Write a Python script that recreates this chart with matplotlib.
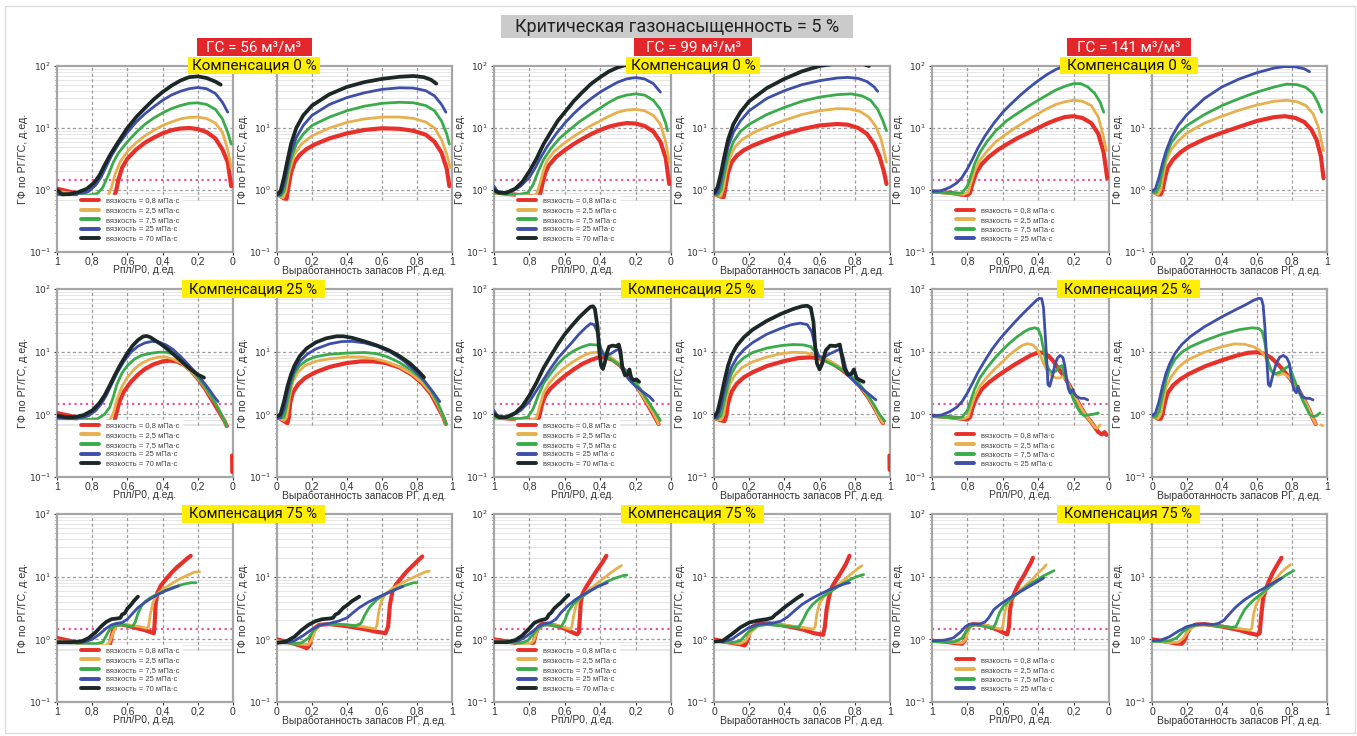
import numpy as np
import matplotlib
matplotlib.use("Agg")
import matplotlib.pyplot as plt
from matplotlib.patches import Rectangle

plt.rcParams["font.family"] = ["Liberation Sans", "DejaVu Sans"]
plt.rcParams["mathtext.fontset"] = "dejavusans"

GAP = (np.nan, np.nan)

# --- Data ---

VISC = ["0,8", "2,5", "7,5", "25", "70"]
COLORS = ["#e8302a", "#e6b04e", "#3aab4a", "#3d4fa8", "#1c2828"]
WIDTHS = [3.0, 2.0, 2.0, 2.0, 2.7]

GS_VALUES = ["56", "99", "141"]
COMP_VALUES = ["0", "25", "75"]
X_TICKS = [0, 0.2, 0.4, 0.6, 0.8, 1]
X_LABELS = ["0", "0,2", "0,4", "0,6", "0,8", "1"]

# ГС = 56 м3/м3, компенсация 0 % (x = Рпл/Р0)
P56_C0 = {
    "0,8": [(1, 1.05), (0.95, 0.97), (0.9, 0.9), (0.85, 0.83), (0.8, 0.78), (0.75, 0.73), (0.71, 0.7), (0.68, 0.72),
            (0.665, 0.95), (0.65, 1.5), (0.63, 2.3), (0.6, 3.2), (0.55, 4.5), (0.5, 5.8), (0.45, 7), (0.4, 8.2),
            (0.35, 9.2), (0.3, 9.8), (0.25, 10), (0.2, 9.6), (0.15, 8.6), (0.1, 6.8), (0.06, 4.5), (0.03, 2.8), (0.01, 1.15)],
    "2,5": [(1, 0.95), (0.9, 0.87), (0.8, 0.8), (0.74, 0.77), (0.71, 0.8), (0.69, 1.1), (0.67, 1.8), (0.64, 2.9),
            (0.6, 4.2), (0.55, 5.8), (0.5, 7.5), (0.45, 9.2), (0.4, 11), (0.35, 12.5), (0.3, 14), (0.25, 14.8),
            (0.2, 15), (0.15, 14.2), (0.1, 12), (0.06, 8.5), (0.03, 4.5), (0.01, 2.3)],
    "7,5": [(1, 0.87), (0.9, 0.85), (0.82, 0.82), (0.77, 0.88), (0.74, 1.1), (0.71, 1.7), (0.68, 2.8), (0.65, 4),
            (0.6, 6), (0.55, 8.5), (0.5, 11.5), (0.45, 14.5), (0.4, 17.5), (0.35, 20.5), (0.3, 23), (0.25, 25),
            (0.2, 25.5), (0.15, 24), (0.1, 20), (0.06, 14), (0.03, 8.5), (0.01, 5.5)],
    "25": [(1, 0.85), (0.93, 0.84), (0.87, 0.86), (0.82, 0.95), (0.78, 1.2), (0.75, 1.6), (0.72, 2.4), (0.69, 3.6),
           (0.65, 5.5), (0.6, 8.5), (0.55, 12.5), (0.5, 17), (0.45, 22), (0.4, 28), (0.35, 34), (0.3, 39),
           (0.25, 43), (0.2, 45), (0.15, 43), (0.1, 36), (0.06, 26), (0.03, 18)],
    "70": [(1, 1.0), (0.97, 0.85), (0.93, 0.86), (0.88, 0.92), (0.83, 1.05), (0.79, 1.3), (0.76, 1.7), (0.73, 2.5),
           (0.7, 3.6), (0.66, 5.5), (0.6, 10), (0.55, 15), (0.5, 21), (0.45, 29), (0.4, 38), (0.35, 48),
           (0.3, 58), (0.25, 66), (0.2, 68), (0.15, 64), (0.1, 56), (0.07, 50)],
}
# ГС = 56, компенсация 0 % (x = выработанность запасов)
R56_C0 = {
    "0,8": [(0, 0.85), (0.02, 0.8), (0.04, 0.73), (0.055, 0.72), (0.065, 1.1), (0.08, 1.9), (0.1, 2.8), (0.13, 3.7),
            (0.17, 4.6), (0.22, 5.5), (0.3, 6.8), (0.4, 8.2), (0.5, 9.3), (0.6, 9.9), (0.7, 9.7), (0.78, 9),
            (0.85, 7.8), (0.9, 6), (0.94, 4), (0.97, 2.2), (0.985, 1.15)],
    "2,5": [(0, 0.85), (0.02, 0.78), (0.035, 0.75), (0.05, 0.95), (0.07, 2), (0.1, 3.8), (0.14, 5.5), (0.2, 7.5),
            (0.3, 10), (0.4, 12.3), (0.5, 14), (0.6, 15), (0.7, 15), (0.78, 14.3), (0.85, 12.5), (0.9, 10),
            (0.94, 6.5), (0.97, 3.8), (0.99, 2.3)],
    "7,5": [(0, 0.85), (0.02, 0.8), (0.04, 0.95), (0.06, 1.8), (0.08, 3.2), (0.11, 5.5), (0.15, 8), (0.2, 11),
            (0.3, 15), (0.4, 19), (0.5, 22.5), (0.6, 25), (0.7, 26), (0.78, 25.5), (0.85, 23), (0.9, 19),
            (0.94, 13), (0.97, 8), (0.985, 5.5)],
    "25": [(0, 0.82), (0.02, 0.85), (0.04, 1.2), (0.06, 2.3), (0.08, 4), (0.11, 7), (0.15, 11), (0.2, 16),
           (0.3, 24), (0.4, 31), (0.5, 37), (0.6, 42), (0.7, 44.5), (0.78, 44), (0.85, 40), (0.9, 33),
           (0.94, 24), (0.965, 18)],
    "70": [(0, 0.85), (0.02, 0.95), (0.04, 1.6), (0.06, 3), (0.08, 5.5), (0.11, 10), (0.15, 16), (0.2, 23),
           (0.3, 35), (0.4, 46), (0.5, 55), (0.6, 62), (0.7, 67), (0.78, 69), (0.84, 66), (0.88, 60), (0.91, 52)],
}

# ГС = 99, компенсация 0 %
P99_C0 = {
    "0,8": [(1, 0.92), (0.93, 0.87), (0.86, 0.83), (0.8, 0.8), (0.76, 0.78), (0.74, 0.85), (0.725, 1.3), (0.71, 1.9),
            (0.69, 2.5), (0.65, 3.4), (0.6, 4.4), (0.55, 5.5), (0.5, 6.7), (0.45, 8), (0.4, 9.3), (0.35, 10.5),
            (0.3, 11.4), (0.25, 12), (0.2, 11.8), (0.15, 10.8), (0.1, 8.8), (0.06, 6), (0.03, 3.3), (0.01, 1.25)],
    "2,5": [(1, 0.9), (0.92, 0.86), (0.85, 0.82), (0.79, 0.8), (0.76, 0.85), (0.74, 1.3), (0.72, 2.1), (0.7, 3),
            (0.66, 4.2), (0.6, 5.8), (0.55, 7.3), (0.5, 9), (0.45, 11), (0.4, 13), (0.35, 15.5), (0.3, 18),
            (0.25, 19.5), (0.2, 20), (0.15, 19), (0.1, 16), (0.06, 11.5), (0.03, 6), (0.01, 2.8)],
    "7,5": [(1, 0.9), (0.92, 0.86), (0.86, 0.85), (0.81, 0.9), (0.78, 1.2), (0.75, 2), (0.72, 3.1), (0.68, 4.6),
            (0.63, 6.8), (0.58, 9), (0.52, 12.5), (0.45, 17), (0.4, 21), (0.35, 26), (0.3, 31), (0.25, 34),
            (0.2, 35.5), (0.15, 34), (0.1, 28), (0.06, 20), (0.03, 12), (0.02, 9)],
    "25": [(1, 1.15), (0.98, 0.95), (0.95, 0.9), (0.9, 0.95), (0.85, 1.15), (0.8, 1.6), (0.77, 2.2), (0.74, 3.2),
           (0.7, 5), (0.65, 8), (0.6, 12), (0.55, 17), (0.5, 23), (0.45, 30), (0.4, 38), (0.35, 46),
           (0.3, 55), (0.25, 62), (0.2, 65), (0.15, 62), (0.1, 52), (0.06, 38)],
    "70": [(1, 1.0), (0.97, 0.9), (0.93, 0.9), (0.88, 1.05), (0.84, 1.35), (0.8, 2), (0.76, 3.2), (0.72, 5.5),
           (0.68, 8.5), (0.64, 13), (0.6, 18), (0.55, 27), (0.5, 38), (0.45, 52), (0.4, 66), (0.35, 82),
           (0.3, 95), (0.25, 105), (0.2, 110), (0.15, 108), (0.1, 100)],
}
R99_C0 = {
    "0,8": [(0, 0.85), (0.02, 0.82), (0.04, 0.78), (0.055, 0.77), (0.065, 1.1), (0.08, 1.9), (0.1, 2.8), (0.13, 3.6),
            (0.17, 4.4), (0.22, 5.2), (0.3, 6.4), (0.4, 8), (0.5, 9.6), (0.6, 11), (0.7, 11.6), (0.76, 11.3),
            (0.82, 10), (0.87, 8), (0.91, 5.5), (0.94, 3.5), (0.965, 2), (0.98, 1.25)],
    "2,5": [(0, 0.85), (0.02, 0.8), (0.04, 0.8), (0.055, 1.1), (0.07, 2), (0.09, 3.3), (0.12, 5), (0.16, 6.5),
            (0.22, 8.3), (0.3, 10.5), (0.4, 13.3), (0.5, 16.5), (0.6, 19), (0.7, 20.5), (0.77, 20.3), (0.83, 18.5),
            (0.88, 15), (0.92, 10.5), (0.95, 6.5), (0.98, 2.8)],
    "7,5": [(0, 0.85), (0.02, 0.82), (0.04, 1.0), (0.06, 1.9), (0.08, 3.5), (0.11, 6), (0.15, 8.8), (0.2, 11.5),
            (0.3, 16.5), (0.4, 21.5), (0.5, 27), (0.6, 31.5), (0.7, 34.5), (0.78, 35.5), (0.84, 33), (0.89, 28),
            (0.93, 20), (0.96, 13), (0.98, 9)],
    "25": [(0, 0.85), (0.02, 0.9), (0.04, 1.4), (0.06, 2.8), (0.08, 5), (0.11, 8.5), (0.15, 13), (0.2, 19),
           (0.3, 30), (0.4, 40), (0.5, 50), (0.6, 58), (0.7, 64), (0.76, 65.5), (0.82, 63), (0.87, 56),
           (0.91, 46), (0.93, 39)],
    "70": [(0, 0.9), (0.02, 1.1), (0.04, 1.9), (0.06, 3.6), (0.08, 6.5), (0.11, 11.5), (0.15, 18), (0.2, 27),
           (0.3, 44), (0.4, 62), (0.5, 82), (0.6, 100), (0.7, 110), (0.78, 115), (0.84, 110), (0.88, 100)],
}

# ГС = 141, компенсация 0 %
P141_C0 = {
    "0,8": [(1, 0.95), (0.93, 0.92), (0.87, 0.88), (0.83, 0.84), (0.8, 0.83), (0.785, 0.9), (0.77, 1.3), (0.75, 1.9),
            (0.72, 2.6), (0.68, 3.4), (0.63, 4.4), (0.58, 5.4), (0.52, 6.8), (0.45, 8.5), (0.4, 10), (0.35, 11.8),
            (0.3, 13.5), (0.25, 15), (0.2, 15.5), (0.15, 14.5), (0.1, 12), (0.06, 8), (0.03, 4), (0.01, 1.55)],
    "2,5": [(1, 0.92), (0.93, 0.9), (0.87, 0.87), (0.82, 0.85), (0.795, 0.92), (0.78, 1.3), (0.76, 2), (0.73, 3),
            (0.69, 4.2), (0.64, 6), (0.58, 8), (0.52, 10.5), (0.45, 14), (0.4, 17), (0.35, 20.5), (0.3, 24),
            (0.25, 26.5), (0.2, 28), (0.15, 27), (0.1, 23), (0.06, 15), (0.03, 7), (0.015, 4.3)],
    "7,5": [(1, 0.92), (0.93, 0.9), (0.87, 0.88), (0.83, 0.9), (0.8, 1.15), (0.78, 1.7), (0.76, 2.6), (0.73, 4),
            (0.69, 6), (0.64, 9), (0.58, 13), (0.52, 17), (0.45, 23), (0.4, 28), (0.35, 34), (0.3, 41),
            (0.25, 47), (0.2, 52), (0.16, 52), (0.12, 46), (0.08, 36), (0.05, 26), (0.03, 18)],
    "25": [(1, 0.95), (0.95, 0.97), (0.9, 1.1), (0.86, 1.3), (0.83, 1.6), (0.8, 2.2), (0.77, 3.2), (0.74, 4.8),
           (0.7, 7.5), (0.65, 12), (0.6, 18), (0.55, 25), (0.5, 34), (0.45, 45), (0.4, 58), (0.35, 73),
           (0.3, 88), (0.25, 100), (0.2, 104), (0.15, 100), (0.1, 90)],
}
R141_C0 = {
    "0,8": [(0, 0.95), (0.02, 0.9), (0.035, 0.85), (0.05, 0.85), (0.06, 1.0), (0.075, 1.6), (0.09, 2.3), (0.12, 3.1),
            (0.16, 4), (0.21, 5), (0.3, 6.6), (0.4, 8.4), (0.5, 10.5), (0.6, 13), (0.7, 15), (0.76, 15.5),
            (0.82, 14.5), (0.87, 12.5), (0.91, 9.5), (0.94, 6.5), (0.965, 3.5), (0.98, 1.55)],
    "2,5": [(0, 0.92), (0.02, 0.88), (0.035, 0.85), (0.05, 1.0), (0.065, 1.8), (0.08, 2.9), (0.11, 4.5), (0.15, 6.2),
            (0.2, 8.3), (0.3, 12), (0.4, 15.5), (0.5, 19.5), (0.6, 23.5), (0.7, 27), (0.77, 28), (0.83, 26.5),
            (0.88, 23), (0.92, 17), (0.95, 10.5), (0.98, 4.3)],
    "7,5": [(0, 0.92), (0.02, 0.9), (0.04, 1.1), (0.06, 2), (0.08, 3.5), (0.11, 5.8), (0.15, 8.2), (0.2, 11),
            (0.3, 16.5), (0.4, 23), (0.5, 30), (0.6, 38), (0.7, 46), (0.77, 51), (0.83, 50), (0.88, 45),
            (0.92, 36), (0.95, 25), (0.97, 18)],
    "25": [(0, 0.95), (0.02, 1.05), (0.04, 1.6), (0.06, 2.7), (0.08, 4.2), (0.11, 7), (0.15, 11), (0.2, 16.5),
           (0.3, 30), (0.4, 46), (0.5, 62), (0.6, 78), (0.7, 93), (0.76, 98), (0.82, 97), (0.87, 90), (0.9, 81)],
}

# ГС = 56, компенсация 25 %
P56_C25 = {
    "0,8": [(1, 1.05), (0.93, 0.95), (0.86, 0.85), (0.8, 0.78), (0.74, 0.73), (0.7, 0.71), (0.675, 0.75), (0.66, 1.1),
            (0.645, 1.6), (0.62, 2.3), (0.58, 3.3), (0.54, 4.3), (0.5, 5.3), (0.45, 6.3), (0.4, 7), (0.36, 7.2),
            (0.32, 7), (0.28, 6.2), (0.24, 5), (0.2, 3.7), (0.16, 2.6), (0.12, 1.7), (0.08, 1.1), (0.05, 0.8),
            (0.035, 0.65), GAP, (0.005, 0.22), (0.004, 0.12)],
    "2,5": [(1, 0.95), (0.9, 0.86), (0.8, 0.8), (0.74, 0.77), (0.7, 0.8), (0.68, 1.05), (0.66, 1.7), (0.63, 2.8),
            (0.6, 3.9), (0.56, 5.3), (0.52, 6.5), (0.47, 7.6), (0.42, 8.2), (0.38, 8.2), (0.34, 7.6), (0.3, 6.7),
            (0.26, 5.5), (0.22, 4.3), (0.18, 3.2), (0.14, 2.2), (0.1, 1.5), (0.07, 1.05), (0.05, 0.8), (0.035, 0.65)],
    "7,5": [(1, 0.88), (0.9, 0.85), (0.82, 0.82), (0.77, 0.85), (0.73, 1.0), (0.7, 1.3), (0.68, 1.9), (0.66, 3),
            (0.63, 4.6), (0.6, 6), (0.56, 7.6), (0.52, 8.7), (0.47, 9.4), (0.42, 9.8), (0.38, 9.8), (0.34, 9.2),
            (0.3, 7.8), (0.26, 6.2), (0.22, 4.6), (0.18, 3.3), (0.14, 2.3), (0.1, 1.5), (0.07, 1.05), (0.05, 0.8),
            (0.035, 0.65)],
    "25": [(1, 0.87), (0.93, 0.86), (0.87, 0.88), (0.82, 0.95), (0.78, 1.15), (0.75, 1.45), (0.72, 2), (0.69, 3),
           (0.66, 4.5), (0.62, 7), (0.58, 9.8), (0.54, 12.2), (0.5, 13.8), (0.46, 14.6), (0.42, 14.2), (0.38, 12.8),
           (0.34, 10.8), (0.3, 8.5), (0.26, 6.5), (0.22, 4.9), (0.18, 3.6), (0.14, 2.6), (0.1, 1.8), (0.085, 1.6)],
    "70": [(1, 0.95), (0.95, 0.9), (0.9, 0.9), (0.85, 0.97), (0.8, 1.15), (0.76, 1.5), (0.73, 2), (0.7, 2.9),
           (0.67, 4.3), (0.64, 6.2), (0.6, 9.5), (0.57, 12.5), (0.54, 15.3), (0.51, 17.5), (0.49, 17.8), (0.47, 17),
           (0.44, 15), (0.4, 12.6), (0.36, 10.3), (0.32, 8.2), (0.28, 6.5), (0.24, 5.2), (0.2, 4.3), (0.165, 3.85)],
}
R56_C25 = {
    "0,8": [(0, 0.9), (0.02, 0.85), (0.04, 0.78), (0.06, 0.72), (0.068, 0.9), (0.075, 1.5), (0.09, 2.2), (0.12, 3),
            (0.16, 3.8), (0.22, 4.7), (0.3, 5.7), (0.4, 6.6), (0.48, 7), (0.55, 7), (0.62, 6.6), (0.7, 5.6),
            (0.77, 4.3), (0.83, 3.1), (0.88, 2.1), (0.92, 1.3), (0.95, 0.9), (0.965, 0.7)],
    "2,5": [(0, 0.9), (0.02, 0.85), (0.04, 0.8), (0.055, 0.9), (0.07, 1.8), (0.09, 3.3), (0.12, 4.7), (0.16, 6),
            (0.22, 7), (0.3, 7.7), (0.4, 8.2), (0.48, 8.2), (0.55, 7.8), (0.62, 7), (0.7, 5.7), (0.77, 4.4),
            (0.83, 3.2), (0.88, 2.2), (0.92, 1.4), (0.95, 0.9), (0.965, 0.7)],
    "7,5": [(0, 0.9), (0.02, 0.87), (0.04, 0.9), (0.06, 1.6), (0.08, 3), (0.1, 4.5), (0.13, 6), (0.17, 7.3),
            (0.22, 8.3), (0.3, 9.1), (0.4, 9.5), (0.5, 9.7), (0.57, 9.3), (0.63, 8.3), (0.7, 6.7), (0.77, 5),
            (0.83, 3.6), (0.88, 2.4), (0.92, 1.5), (0.95, 0.95), (0.965, 0.7)],
    "25": [(0, 0.88), (0.02, 0.88), (0.04, 1.2), (0.06, 2.2), (0.08, 3.6), (0.1, 5), (0.13, 7), (0.17, 9),
           (0.22, 11), (0.3, 13.3), (0.37, 14.5), (0.43, 14.6), (0.5, 13.8), (0.57, 12.2), (0.65, 9.8), (0.72, 7.3),
           (0.78, 5.2), (0.84, 3.5), (0.89, 2.3), (0.93, 1.6)],
    "70": [(0, 0.92), (0.02, 1.0), (0.04, 1.6), (0.06, 2.8), (0.08, 4.3), (0.1, 6), (0.13, 8.5), (0.17, 11.3),
           (0.22, 14), (0.28, 16.3), (0.34, 17.6), (0.38, 17.6), (0.43, 16.6), (0.5, 14.6), (0.57, 12.6),
           (0.64, 10.5), (0.7, 8.5), (0.76, 6.5), (0.81, 4.8), (0.84, 3.9)],
}

# ГС = 99, компенсация 25 %
P99_C25 = {
    "0,8": [(1, 0.9), (0.92, 0.86), (0.85, 0.82), (0.8, 0.8), (0.765, 0.78), (0.745, 0.9), (0.73, 1.4), (0.71, 2),
            (0.68, 2.6), (0.64, 3.3), (0.6, 4.1), (0.55, 5.2), (0.5, 6.4), (0.45, 7.4), (0.41, 8.1), (0.37, 8.1),
            (0.33, 7.4), (0.29, 6.1), (0.25, 4.7), (0.21, 3.3), (0.17, 2.2), (0.13, 1.4), (0.1, 1.0), (0.07, 0.7)],
    "2,5": [(1, 0.9), (0.92, 0.86), (0.85, 0.82), (0.79, 0.8), (0.76, 0.88), (0.74, 1.4), (0.72, 2.2), (0.69, 3.1),
            (0.65, 4.2), (0.6, 5.6), (0.55, 7), (0.5, 8.5), (0.46, 9.5), (0.42, 9.8), (0.38, 9.3), (0.34, 8.2),
            (0.3, 6.6), (0.26, 5), (0.22, 3.6), (0.18, 2.4), (0.14, 1.6), (0.1, 1.05), (0.07, 0.7)],
    "7,5": [(1, 0.9), (0.92, 0.86), (0.86, 0.85), (0.81, 0.9), (0.78, 1.2), (0.75, 2), (0.72, 3.1), (0.68, 4.5),
            (0.64, 6.3), (0.6, 8.2), (0.55, 10.3), (0.5, 12), (0.46, 13), (0.42, 12.8), (0.4, 11.5), (0.38, 9.5),
            (0.36, 8.2), (0.33, 7.3), (0.3, 6.4), (0.26, 5.1), (0.22, 3.8), (0.18, 2.7), (0.14, 1.8), (0.1, 1.2),
            (0.06, 0.8)],
    "25": [(1, 1.15), (0.98, 0.95), (0.95, 0.9), (0.9, 0.95), (0.85, 1.15), (0.8, 1.6), (0.76, 2.4), (0.72, 3.6),
           (0.68, 5.4), (0.64, 7.8), (0.6, 10.5), (0.56, 14), (0.52, 19), (0.48, 24.5), (0.455, 28), (0.435, 27),
           (0.42, 22), (0.405, 14), (0.39, 9.5), (0.37, 8.5), (0.34, 9.3), (0.31, 10.5), (0.295, 11), (0.285, 8.5),
           (0.27, 5.5), (0.25, 4), (0.23, 3.4), (0.2, 2.8), (0.16, 2.3), (0.12, 1.9), (0.1, 1.65)],
    "70": [(1, 1.0), (0.97, 0.9), (0.93, 0.9), (0.88, 1.05), (0.84, 1.35), (0.8, 2), (0.76, 3.2), (0.72, 5.5),
           (0.68, 8.5), (0.64, 13), (0.6, 19), (0.56, 26), (0.52, 35), (0.48, 45), (0.455, 52), (0.44, 53),
           (0.43, 48), (0.415, 25), (0.405, 10), (0.395, 6), (0.385, 5.3), (0.375, 6.5), (0.36, 10), (0.35, 12),
           (0.33, 12.5), (0.31, 12.2), (0.295, 13), (0.285, 10), (0.275, 5.5), (0.26, 4.2), (0.245, 4.3),
           (0.235, 5.2), (0.225, 3.8), (0.21, 3.5), (0.195, 3.6), (0.18, 3.3)],
}
R99_C25 = {
    "0,8": [(0, 0.88), (0.02, 0.84), (0.04, 0.8), (0.06, 0.78), (0.07, 0.95), (0.08, 1.5), (0.1, 2.3), (0.13, 3.1),
            (0.17, 3.9), (0.22, 4.7), (0.3, 5.9), (0.4, 7.1), (0.48, 7.9), (0.55, 8.1), (0.6, 7.8), (0.66, 6.8),
            (0.72, 5.3), (0.78, 3.9), (0.83, 2.8), (0.88, 1.8), (0.92, 1.15), (0.95, 0.8), (0.96, 0.72), GAP,
            (0.997, 0.22), (0.998, 0.13)],
    "2,5": [(0, 0.88), (0.02, 0.83), (0.04, 0.82), (0.055, 1.0), (0.07, 1.8), (0.09, 3), (0.12, 4.3), (0.16, 5.6),
            (0.22, 6.9), (0.3, 8.2), (0.38, 9.3), (0.45, 9.8), (0.52, 9.6), (0.58, 8.8), (0.64, 7.6), (0.7, 6),
            (0.76, 4.5), (0.82, 3.1), (0.87, 2), (0.91, 1.3), (0.94, 0.9), (0.96, 0.72)],
    "7,5": [(0, 0.88), (0.02, 0.85), (0.04, 0.95), (0.06, 1.7), (0.08, 3), (0.1, 4.5), (0.13, 6.3), (0.17, 8),
            (0.22, 9.7), (0.3, 11.4), (0.38, 12.5), (0.45, 13), (0.51, 12.8), (0.55, 12), (0.58, 9.7), (0.61, 7.6),
            (0.65, 6.7), (0.7, 5.7), (0.76, 4.5), (0.82, 3.2), (0.87, 2.1), (0.91, 1.4), (0.94, 1.0), (0.97, 0.78)],
    "25": [(0, 0.88), (0.02, 0.9), (0.04, 1.3), (0.06, 2.4), (0.08, 4), (0.1, 5.7), (0.13, 8), (0.17, 10.8),
           (0.22, 14), (0.3, 19), (0.38, 23.5), (0.44, 27), (0.49, 28.5), (0.53, 27), (0.555, 21), (0.575, 12),
           (0.595, 8.5), (0.62, 8), (0.66, 9.3), (0.7, 10.5), (0.72, 11), (0.735, 8), (0.75, 5.3), (0.77, 4),
           (0.8, 3.3), (0.84, 2.6), (0.88, 2.1), (0.92, 1.7)],
    "70": [(0, 0.9), (0.02, 1.1), (0.04, 1.9), (0.06, 3.5), (0.08, 6), (0.1, 8.8), (0.13, 12.5), (0.17, 17),
           (0.22, 22.5), (0.3, 31), (0.38, 40), (0.45, 48), (0.5, 53), (0.53, 54), (0.55, 50), (0.565, 30),
           (0.575, 12), (0.585, 6.5), (0.6, 5.2), (0.615, 6.5), (0.635, 10.5), (0.66, 12.5), (0.69, 12.3),
           (0.715, 13), (0.725, 9), (0.74, 5.5), (0.76, 4.3), (0.78, 4.4), (0.795, 5.2), (0.81, 3.8), (0.83, 3.5),
           (0.85, 3.3)],
}

# ГС = 141, компенсация 25 %
P141_C25 = {
    "0,8": [(1, 0.95), (0.93, 0.92), (0.87, 0.88), (0.83, 0.85), (0.8, 0.83), (0.785, 0.9), (0.77, 1.3), (0.75, 1.8),
            (0.72, 2.5), (0.68, 3.2), (0.63, 4.1), (0.58, 5.1), (0.53, 6.3), (0.48, 7.6), (0.44, 8.8), (0.4, 9.7),
            (0.37, 9.6), (0.34, 8.5), (0.31, 6.8), (0.28, 5.1), (0.25, 3.9), (0.22, 2.8), (0.19, 1.9), (0.16, 1.3),
            (0.13, 0.95), (0.1, 0.75), (0.08, 0.62), (0.06, 0.52), (0.04, 0.48), (0.025, 0.52), (0.015, 0.47)],
    "2,5": [(1, 0.92), (0.93, 0.9), (0.87, 0.87), (0.82, 0.85), (0.795, 0.92), (0.78, 1.3), (0.76, 1.9), (0.73, 2.8),
            (0.69, 3.9), (0.64, 5.5), (0.6, 7), (0.56, 9), (0.52, 11), (0.49, 12.6), (0.46, 13.4), (0.43, 12.8),
            (0.41, 11.3), (0.39, 9), (0.37, 6.5), (0.35, 5), (0.33, 4.2), (0.3, 3.8), (0.28, 3.8), (0.26, 4),
            (0.24, 3.6), (0.22, 2.7), (0.19, 1.9), (0.16, 1.3), (0.13, 0.95), (0.1, 0.75), (0.08, 0.62),
            (0.065, 0.6), (0.05, 0.68)],
    "7,5": [(1, 0.92), (0.93, 0.9), (0.87, 0.88), (0.83, 0.9), (0.8, 1.15), (0.78, 1.7), (0.76, 2.5), (0.73, 3.8),
            (0.69, 5.5), (0.64, 8.2), (0.6, 10.8), (0.56, 13.8), (0.52, 17.2), (0.48, 20.7), (0.45, 23), (0.42, 24),
            (0.4, 23), (0.385, 18), (0.37, 11), (0.355, 6.5), (0.34, 5.2), (0.32, 4.6), (0.3, 4.9), (0.28, 5.7),
            (0.265, 6), (0.255, 4.5), (0.24, 3.5), (0.22, 2.4), (0.2, 1.7), (0.18, 1.3), (0.16, 1.05), (0.14, 0.95),
            (0.12, 0.98), (0.09, 1.0), (0.06, 1.05)],
    "25": [(1, 0.95), (0.95, 0.97), (0.9, 1.1), (0.86, 1.3), (0.83, 1.6), (0.8, 2.2), (0.77, 3.2), (0.74, 4.7),
           (0.7, 7.3), (0.66, 11), (0.62, 15.5), (0.58, 21), (0.54, 28), (0.5, 37), (0.46, 48), (0.43, 58),
           (0.41, 66), (0.395, 71), (0.38, 70), (0.37, 50), (0.36, 18), (0.35, 6), (0.345, 3), (0.335, 2.8),
           (0.32, 4), (0.305, 6.3), (0.29, 8), (0.275, 8.7), (0.26, 8), (0.25, 6), (0.24, 3.8), (0.23, 2.6),
           (0.22, 2.2), (0.205, 2.5), (0.195, 2.1), (0.18, 1.9), (0.16, 1.8), (0.14, 1.8), (0.12, 1.7)],
}
R141_C25 = {
    "0,8": [(0, 0.95), (0.02, 0.9), (0.035, 0.85), (0.05, 0.85), (0.06, 1.0), (0.075, 1.6), (0.09, 2.2), (0.12, 2.9),
            (0.16, 3.6), (0.21, 4.4), (0.3, 5.8), (0.4, 7.3), (0.48, 8.6), (0.55, 9.6), (0.6, 9.8), (0.64, 9.3),
            (0.68, 8), (0.72, 6.3), (0.76, 4.7), (0.8, 3.4), (0.84, 2.4), (0.87, 1.7), (0.9, 1.15), (0.92, 0.85),
            (0.935, 0.7)],
    "2,5": [(0, 0.92), (0.02, 0.88), (0.035, 0.86), (0.05, 1.0), (0.065, 1.7), (0.08, 2.7), (0.11, 4), (0.15, 5.6),
            (0.2, 7.3), (0.3, 9.8), (0.4, 12), (0.47, 13.3), (0.53, 13.1), (0.58, 12), (0.62, 10.4), (0.645, 8.5),
            (0.665, 6.2), (0.69, 4.6), (0.72, 4.2), (0.75, 4.5), (0.78, 4), (0.81, 3.2), (0.84, 2.4), (0.87, 1.7),
            (0.9, 1.15), (0.92, 0.85), (0.935, 0.7), GAP, (0.965, 0.68), (0.975, 0.66)],
    "7,5": [(0, 0.92), (0.02, 0.9), (0.04, 1.1), (0.06, 2), (0.08, 3.5), (0.1, 5.2), (0.13, 7.5), (0.17, 9.8),
            (0.22, 12), (0.3, 15), (0.4, 19), (0.5, 22.5), (0.57, 24), (0.61, 23.5), (0.63, 21), (0.645, 14),
            (0.66, 7.5), (0.68, 5), (0.7, 4.4), (0.73, 4.7), (0.76, 5.4), (0.785, 6), (0.8, 4.5), (0.82, 3.2),
            (0.84, 2.3), (0.86, 1.7), (0.88, 1.3), (0.9, 1.0), (0.92, 0.92), (0.94, 0.95), (0.96, 1.05)],
    "25": [(0, 0.95), (0.02, 1.05), (0.04, 1.6), (0.06, 2.8), (0.08, 4.5), (0.1, 6.3), (0.13, 9.3), (0.17, 13),
           (0.22, 17.5), (0.3, 25), (0.4, 36), (0.48, 47), (0.54, 57), (0.58, 66), (0.61, 71), (0.625, 70),
           (0.635, 55), (0.645, 25), (0.655, 8), (0.665, 3), (0.675, 2.8), (0.69, 4.2), (0.71, 6.5), (0.73, 8.2),
           (0.75, 8.7), (0.77, 8), (0.785, 6.5), (0.795, 4), (0.81, 2.5), (0.825, 2.2), (0.835, 2.8), (0.845, 2.2),
           (0.86, 1.9), (0.88, 1.8), (0.9, 1.8), (0.92, 1.7)],
}

# ГС = 56, компенсация 75 %
P56_C75 = {
    "0,8": [(1, 1.05), (0.93, 0.95), (0.86, 0.86), (0.8, 0.8), (0.76, 0.75), (0.725, 0.72), (0.7, 0.8), (0.69, 1.1),
            (0.68, 1.45), (0.665, 1.7), (0.64, 1.75), (0.6, 1.65), (0.55, 1.52), (0.5, 1.4), (0.46, 1.28),
            (0.45, 1.25), (0.445, 1.8), (0.44, 3.5), (0.43, 5.5), (0.41, 7.2), (0.38, 9.2), (0.35, 11.5),
            (0.32, 14), (0.29, 16.5), (0.26, 19.5), (0.24, 21.5)],
    "2,5": [(1, 0.95), (0.92, 0.9), (0.85, 0.85), (0.78, 0.82), (0.72, 0.8), (0.7, 0.9), (0.68, 1.3), (0.66, 1.65),
            (0.63, 1.75), (0.58, 1.68), (0.53, 1.6), (0.49, 1.5), (0.48, 1.6), (0.47, 2.5), (0.455, 3.8),
            (0.44, 4.8), (0.42, 5.6), (0.38, 6.8), (0.34, 8), (0.3, 9.3), (0.26, 10.5), (0.22, 11.8), (0.19, 12)],
    "7,5": [(1, 0.9), (0.92, 0.88), (0.84, 0.86), (0.78, 0.85), (0.74, 0.9), (0.72, 1.15), (0.7, 1.45), (0.67, 1.65),
            (0.63, 1.7), (0.6, 1.65), (0.57, 1.6), (0.555, 1.9), (0.54, 2.6), (0.52, 3.4), (0.5, 4), (0.47, 4.6),
            (0.43, 5.3), (0.38, 6.1), (0.33, 6.9), (0.28, 7.6), (0.24, 8), (0.21, 8)],
    "25": [(1, 0.88), (0.92, 0.88), (0.85, 0.9), (0.8, 1.0), (0.76, 1.2), (0.72, 1.5), (0.69, 1.7), (0.66, 1.8),
           (0.63, 1.85), (0.6, 2.1), (0.57, 2.6), (0.54, 3.2), (0.5, 3.9), (0.46, 4.6), (0.42, 5.3), (0.38, 6),
           (0.34, 6.6), (0.31, 7.1)],
    "70": [(1, 0.9), (0.92, 0.9), (0.86, 0.93), (0.82, 1.05), (0.78, 1.3), (0.75, 1.6), (0.72, 1.9), (0.69, 2.1),
           (0.66, 2.15), (0.64, 2.2), (0.63, 2.5), (0.615, 2.6), (0.6, 3.1), (0.59, 3.3), (0.575, 3.7), (0.56, 4.2),
           (0.54, 4.8)],
}
R56_C75 = {
    "0,8": [(0, 1.0), (0.05, 0.92), (0.1, 0.85), (0.14, 0.78), (0.17, 0.72), (0.185, 0.8), (0.2, 1.15), (0.215, 1.5),
            (0.24, 1.7), (0.3, 1.75), (0.4, 1.62), (0.5, 1.45), (0.57, 1.32), (0.62, 1.25), (0.635, 1.6),
            (0.645, 3.5), (0.66, 5.8), (0.68, 7.5), (0.71, 9.5), (0.74, 12), (0.77, 14.5), (0.8, 17.5), (0.83, 21)],
    "2,5": [(0, 0.95), (0.05, 0.9), (0.1, 0.86), (0.15, 0.83), (0.18, 0.83), (0.2, 1.0), (0.22, 1.4), (0.25, 1.7),
            (0.3, 1.78), (0.4, 1.7), (0.5, 1.58), (0.56, 1.48), (0.57, 1.6), (0.58, 2.6), (0.595, 4), (0.62, 5.3),
            (0.66, 6.5), (0.71, 7.8), (0.76, 9.2), (0.81, 10.7), (0.85, 12), (0.87, 12.2)],
    "7,5": [(0, 0.9), (0.05, 0.88), (0.1, 0.86), (0.14, 0.88), (0.18, 1.05), (0.21, 1.4), (0.25, 1.7), (0.3, 1.75),
            (0.38, 1.72), (0.45, 1.65), (0.48, 1.8), (0.5, 2.4), (0.53, 3.3), (0.57, 4.3), (0.62, 5.3), (0.68, 6.4),
            (0.74, 7.4), (0.78, 8), (0.8, 8)],
    "25": [(0, 0.88), (0.05, 0.88), (0.1, 0.95), (0.15, 1.15), (0.2, 1.45), (0.25, 1.7), (0.3, 1.8), (0.35, 1.95),
           (0.4, 2.2), (0.43, 2.6), (0.47, 3.2), (0.52, 3.9), (0.57, 4.6), (0.62, 5.3), (0.67, 6.1), (0.72, 7)],
    "70": [(0, 0.88), (0.05, 0.92), (0.1, 1.1), (0.14, 1.4), (0.18, 1.7), (0.22, 1.95), (0.26, 2.1), (0.3, 2.15),
           (0.32, 2.2), (0.335, 2.5), (0.35, 2.6), (0.37, 3.0), (0.38, 3.2), (0.4, 3.5), (0.43, 4.1), (0.47, 4.8)],
}

# ГС = 99, компенсация 75 %
P99_C75 = {
    "0,8": [(1, 1.0), (0.93, 0.93), (0.87, 0.87), (0.82, 0.82), (0.79, 0.8), (0.775, 0.9), (0.765, 1.2), (0.75, 1.55),
            (0.73, 1.75), (0.7, 1.78), (0.65, 1.65), (0.6, 1.48), (0.56, 1.3), (0.53, 1.2), (0.52, 1.3),
            (0.515, 2.2), (0.51, 3.8), (0.5, 5.3), (0.48, 6.8), (0.45, 9.2), (0.42, 12.5), (0.39, 16.5), (0.365, 21.5)],
    "2,5": [(1, 0.95), (0.92, 0.9), (0.85, 0.86), (0.8, 0.85), (0.775, 0.95), (0.76, 1.3), (0.74, 1.6), (0.71, 1.75),
            (0.66, 1.7), (0.61, 1.58), (0.57, 1.45), (0.56, 1.6), (0.55, 2.4), (0.535, 3.6), (0.51, 4.7),
            (0.47, 5.9), (0.43, 7.3), (0.39, 9), (0.35, 11), (0.31, 13.3), (0.28, 15)],
    "7,5": [(1, 0.9), (0.92, 0.88), (0.85, 0.87), (0.81, 0.95), (0.78, 1.2), (0.75, 1.5), (0.72, 1.68), (0.68, 1.68),
            (0.64, 1.6), (0.62, 1.6), (0.6, 2.0), (0.58, 2.8), (0.55, 3.7), (0.51, 4.6), (0.46, 5.8), (0.41, 7.1),
            (0.36, 8.4), (0.31, 9.6), (0.27, 10.4), (0.25, 10.6)],
    "25": [(1, 0.9), (0.92, 0.9), (0.86, 0.95), (0.82, 1.1), (0.78, 1.35), (0.75, 1.6), (0.72, 1.75), (0.68, 1.85),
           (0.65, 2.1), (0.62, 2.7), (0.58, 3.5), (0.54, 4.3), (0.5, 5.1), (0.46, 5.9), (0.42, 6.8), (0.38, 7.6),
           (0.36, 8)],
    "70": [(1, 0.9), (0.93, 0.9), (0.88, 0.97), (0.84, 1.15), (0.8, 1.5), (0.77, 1.85), (0.74, 2), (0.71, 2.1),
           (0.7, 2.2), (0.69, 2.5), (0.68, 2.6), (0.66, 3.1), (0.64, 3.5), (0.62, 3.9), (0.6, 4.5), (0.58, 5.1)],
}
R99_C75 = {
    "0,8": [(0, 1.0), (0.05, 0.93), (0.1, 0.88), (0.15, 0.83), (0.175, 0.8), (0.19, 0.95), (0.2, 1.25), (0.22, 1.6),
            (0.26, 1.8), (0.32, 1.8), (0.4, 1.65), (0.5, 1.45), (0.57, 1.25), (0.62, 1.18), (0.63, 1.6), (0.64, 3),
            (0.655, 5), (0.67, 6.8), (0.69, 8.5), (0.72, 11.5), (0.75, 16), (0.77, 21.5)],
    "2,5": [(0, 0.95), (0.05, 0.92), (0.1, 0.88), (0.15, 0.86), (0.18, 0.95), (0.21, 1.3), (0.25, 1.65), (0.3, 1.75),
            (0.4, 1.7), (0.5, 1.55), (0.565, 1.45), (0.575, 1.6), (0.585, 2.6), (0.6, 3.8), (0.63, 5), (0.67, 6.3),
            (0.72, 8), (0.77, 10.5), (0.81, 13), (0.84, 15)],
    "7,5": [(0, 0.92), (0.05, 0.9), (0.1, 0.88), (0.15, 0.95), (0.2, 1.35), (0.25, 1.65), (0.3, 1.72), (0.38, 1.65),
            (0.45, 1.58), (0.48, 1.55), (0.5, 1.9), (0.53, 2.8), (0.56, 3.6), (0.6, 4.5), (0.65, 5.5), (0.7, 6.8),
            (0.76, 8.6), (0.81, 10), (0.85, 10.8)],
    "25": [(0, 0.92), (0.05, 0.92), (0.1, 1.0), (0.15, 1.25), (0.2, 1.55), (0.26, 1.75), (0.33, 1.8), (0.38, 1.95),
           (0.42, 2.3), (0.46, 2.9), (0.5, 3.6), (0.55, 4.4), (0.6, 5.2), (0.65, 6.1), (0.7, 7), (0.75, 7.8),
           (0.77, 8)],
    "70": [(0, 0.92), (0.05, 0.95), (0.1, 1.2), (0.15, 1.55), (0.2, 1.85), (0.25, 2), (0.3, 2.1), (0.33, 2.2),
           (0.35, 2.5), (0.36, 2.6), (0.38, 2.9), (0.41, 3.4), (0.44, 3.9), (0.47, 4.5), (0.5, 5.1)],
}

# ГС = 141, компенсация 75 %
P141_C75 = {
    "0,8": [(1, 0.95), (0.93, 0.92), (0.88, 0.88), (0.85, 0.86), (0.83, 0.85), (0.815, 0.95), (0.805, 1.3),
            (0.79, 1.6), (0.77, 1.75), (0.73, 1.72), (0.68, 1.6), (0.63, 1.42), (0.59, 1.25), (0.575, 1.2),
            (0.565, 1.6), (0.56, 2.8), (0.55, 4.3), (0.53, 5.8), (0.51, 7.7), (0.48, 10.5), (0.46, 13.5),
            (0.44, 17), (0.43, 20)],
    "2,5": [(1, 0.95), (0.92, 0.92), (0.86, 0.88), (0.83, 0.88), (0.81, 1.0), (0.795, 1.35), (0.78, 1.65),
            (0.75, 1.75), (0.7, 1.68), (0.65, 1.55), (0.61, 1.45), (0.6, 1.6), (0.59, 2.6), (0.575, 3.6),
            (0.55, 4.6), (0.51, 5.8), (0.47, 7.3), (0.43, 9.3), (0.4, 11.5), (0.37, 13.8), (0.355, 15.5)],
    "7,5": [(1, 0.92), (0.92, 0.91), (0.87, 0.92), (0.83, 1.05), (0.805, 1.35), (0.785, 1.6), (0.76, 1.7),
            (0.72, 1.65), (0.68, 1.55), (0.655, 1.5), (0.64, 1.8), (0.62, 2.6), (0.6, 3.3), (0.57, 4), (0.53, 5),
            (0.49, 6.2), (0.45, 7.5), (0.41, 8.8), (0.37, 10.3), (0.33, 11.7), (0.31, 12.5)],
    "25": [(1, 0.95), (0.93, 0.97), (0.88, 1.05), (0.84, 1.3), (0.81, 1.6), (0.79, 1.75), (0.76, 1.75), (0.73, 1.75),
           (0.7, 1.9), (0.68, 2.2), (0.65, 3), (0.61, 3.7), (0.57, 4.4), (0.53, 5.2), (0.49, 6), (0.45, 7),
           (0.41, 8.1), (0.37, 9.5)],
}
R141_C75 = {
    "0,8": [(0, 1.0), (0.05, 0.95), (0.1, 0.9), (0.14, 0.86), (0.17, 0.85), (0.185, 0.95), (0.2, 1.25), (0.22, 1.55),
            (0.25, 1.72), (0.3, 1.75), (0.4, 1.6), (0.5, 1.4), (0.56, 1.25), (0.6, 1.18), (0.615, 1.25),
            (0.625, 2.5), (0.635, 4.5), (0.65, 6.3), (0.67, 8.7), (0.69, 11.5), (0.71, 14.5), (0.73, 18), (0.74, 20)],
    "2,5": [(0, 0.95), (0.05, 0.92), (0.1, 0.89), (0.15, 0.9), (0.18, 1.05), (0.21, 1.4), (0.25, 1.68), (0.3, 1.72),
            (0.4, 1.62), (0.5, 1.48), (0.56, 1.4), (0.57, 1.5), (0.58, 2.5), (0.595, 3.6), (0.62, 4.7), (0.66, 6.5),
            (0.7, 8.8), (0.74, 11.8), (0.77, 14), (0.79, 15.5)],
    "7,5": [(0, 0.93), (0.05, 0.92), (0.1, 0.95), (0.14, 1.05), (0.18, 1.35), (0.22, 1.6), (0.27, 1.72), (0.33, 1.7),
            (0.4, 1.62), (0.46, 1.55), (0.48, 1.6), (0.5, 2.1), (0.53, 3), (0.57, 4), (0.62, 5.2), (0.67, 6.8),
            (0.72, 8.6), (0.77, 10.8), (0.81, 12.5)],
    "25": [(0, 0.95), (0.05, 0.97), (0.1, 1.1), (0.15, 1.35), (0.2, 1.6), (0.25, 1.73), (0.3, 1.75), (0.35, 1.72),
           (0.38, 1.8), (0.41, 2.0), (0.44, 2.5), (0.48, 3.3), (0.53, 4.3), (0.58, 5.3), (0.63, 6.3), (0.68, 7.6),
           (0.74, 9.5)],
}

PANELS = {
    ("56", "0"): (P56_C0, R56_C0), ("99", "0"): (P99_C0, R99_C0), ("141", "0"): (P141_C0, R141_C0),
    ("56", "25"): (P56_C25, R56_C25), ("99", "25"): (P99_C25, R99_C25), ("141", "25"): (P141_C25, R141_C25),
    ("56", "75"): (P56_C75, R56_C75), ("99", "75"): (P99_C75, R99_C75), ("141", "75"): (P141_C75, R141_C75),
}

# --- Layout (pixels of the 1357x736 picture) ---

W, H = 1357, 736
COLS = [(57, 233), (277, 452), (494, 671), (714, 890), (932, 1109), (1152, 1327)]
ROWS = [(66, 252), (289, 477), (514, 702)]
TAG_X = [254, 693, 1129]
TEXT = "#333333"
TAG_FONT = ["Roboto", "DejaVu Sans"]


def frac(x0, x1, y0, y1):
    return [x0 / W, 1 - y1 / H, (x1 - x0) / W, (y1 - y0) / H]


def draw_panel(ax, curves, pressure, legend):
    minor = [m * 10.0 ** e for e in (-1, 0, 1) for m in range(2, 10)]
    grid_minor = [v for v in minor if v >= 0.68]
    ax.hlines(grid_minor + [0.68], 0, 1, colors="#e6e6e6", lw=0.7, zorder=0)
    ax.hlines([1, 10], 0, 1, colors="#9c9c9c", lw=0.9, linestyles=(0, (2.5, 2)), zorder=1)
    ax.vlines([0.2, 0.4, 0.6, 0.8], 0.68, 100, colors="#9c9c9c", lw=0.9, linestyles=(0, (2.5, 2)), zorder=1)
    if pressure:
        ax.axhline(1.45, color="#e9579f", lw=1.6, ls=(0, (1, 1.6)), zorder=2)

    for v, c, w in zip(VISC, COLORS, WIDTHS):
        if v not in curves:
            continue
        x, y = zip(*curves[v])
        ax.plot(x, y, color=c, lw=w, solid_capstyle="round", solid_joinstyle="round",
                label=f"вязкость = {v} мПа·с", zorder=3)

    ax.set_yscale("log")
    ax.set_ylim(0.1, 100)
    ax.set_yticks([0.1, 1, 10, 100])
    # the 10^2 label of the right-hand panels sits under the yellow tag
    top = r"$10^{2}$" if pressure else ""
    ax.set_yticklabels([r"$10^{-1}$", r"$10^{0}$", r"$10^{1}$", top])
    ax.set_yticks(minor, minor=True)
    ax.set_yticklabels([], minor=True)
    ax.set_xticks(X_TICKS)
    ax.set_xticklabels(X_LABELS)
    if pressure:
        ax.set_xlim(1, 0)
        ax.set_xlabel("Рпл/Р0, д.ед.", fontsize=7.5, color=TEXT, labelpad=-1)
    else:
        ax.set_xlim(0, 1)
        ax.set_xlabel("Выработанность запасов РГ, д.ед.", fontsize=7.5, color=TEXT, labelpad=-1)
    ax.set_ylabel("ГФ по РГ/ГС, д.ед.", fontsize=7.7, color=TEXT, labelpad=1)
    ax.tick_params(axis="x", labelsize=7.6, length=2, pad=1.5, colors=TEXT)
    ax.tick_params(axis="y", which="major", labelsize=6.5, length=2.5, pad=1.5, colors=TEXT)
    ax.tick_params(axis="y", which="minor", length=1.5, color="#555555")
    for s in ax.spines.values():
        s.set_color("#a6a6a6")
        s.set_linewidth(1.6)

    if legend:
        leg = ax.legend(loc="lower left", bbox_to_anchor=(0.1, 0.015), fontsize=5.5, handlelength=2.4,
                        handletextpad=0.9, labelspacing=0.3, borderpad=0.3, frameon=True, framealpha=1,
                        edgecolor="white", fancybox=False)
        for t in leg.get_texts():
            t.set_color("#444444")
        for h in leg.get_lines():
            h.set_linewidth(2.8)


def tag(fig, cx, y0, y1, w, text, fc, tc, fs):
    fig.add_artist(Rectangle(((cx - w / 2) / W, 1 - y1 / H), w / W, (y1 - y0) / H,
                             transform=fig.transFigure, facecolor=fc, edgecolor="none", zorder=5))
    fig.text(cx / W, 1 - (y0 + y1) / 2 / H, text, ha="center", va="center", color=tc,
             fontsize=fs, zorder=6, family=TAG_FONT)


fig = plt.figure(figsize=(W / 100, H / 100), dpi=100)
fig.patch.set_facecolor("white")

for gi, gs in enumerate(GS_VALUES):
    for ri, comp in enumerate(COMP_VALUES):
        p_curves, r_curves = PANELS[(gs, comp)]
        y0, y1 = ROWS[ri]
        ax_p = fig.add_axes(frac(*COLS[2 * gi], y0, y1))
        draw_panel(ax_p, p_curves, True, True)
        ax_r = fig.add_axes(frac(*COLS[2 * gi + 1], y0, y1))
        draw_panel(ax_r, r_curves, False, False)

# outer frame
fig.add_artist(Rectangle((5 / W, 1 - 733 / H), 1350 / W, 727 / H, transform=fig.transFigure,
                         facecolor="none", edgecolor="#dcdcdc", lw=1, zorder=4))

tag(fig, 677, 15, 38, 351, "Критическая газонасыщенность = 5 %", "#cbcbcb", "#222222", 13)
for gi, gs in enumerate(GS_VALUES):
    tag(fig, TAG_X[gi], 38, 56, [115, 118, 124][gi], f"ГС = {gs} м³/м³", "#e3262c", "white", 11)
    tag(fig, TAG_X[gi], 57, 74, [132, 134, 138][gi], "Компенсация 0 %", "#ffee00", "#111111", 11)
    tag(fig, TAG_X[gi] - 1, 280, 298, 143, "Компенсация 25 %", "#ffee00", "#111111", 10.5)
    tag(fig, TAG_X[gi] - 1, 505, 523, 143, "Компенсация 75 %", "#ffee00", "#111111", 10.5)

fig.savefig("out.png", dpi=100, facecolor="white")
